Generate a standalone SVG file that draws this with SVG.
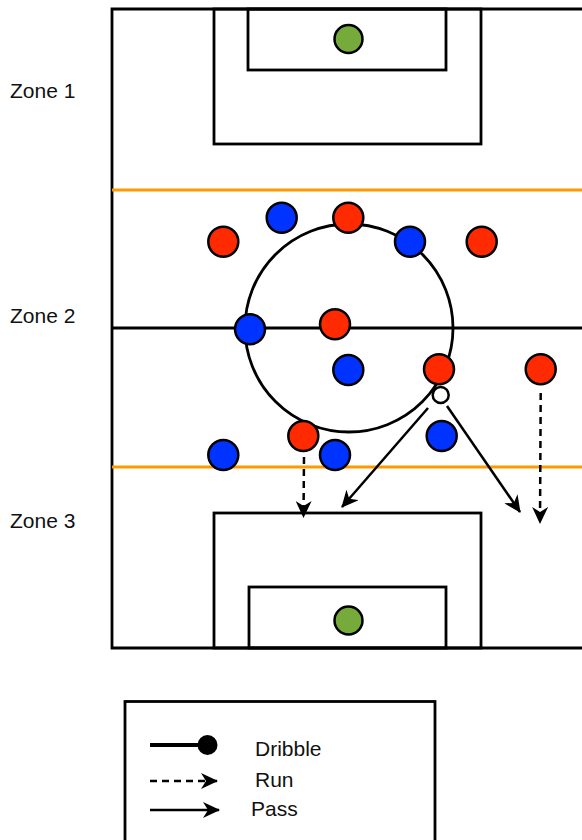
<svg xmlns="http://www.w3.org/2000/svg" width="582" height="840" viewBox="0 0 582 840">
<style>
.ln{fill:none;stroke:#000;stroke-width:2.8}
.or{fill:none;stroke:#ff9900;stroke-width:2.8}
.red{fill:#ff2a00;stroke:#000;stroke-width:2.5}
.blue{fill:#0033ff;stroke:#000;stroke-width:2.5}
.gk{fill:#76ab3c;stroke:#000;stroke-width:2.5}
.ball{fill:#fff;stroke:#000;stroke-width:2.5}
.pass{fill:none;stroke:#000;stroke-width:2.5;marker-end:url(#ah)}
.run{fill:none;stroke:#000;stroke-width:2.5;stroke-dasharray:7 5;marker-end:url(#ah)}
.t{font-family:"Liberation Sans",Arial,sans-serif;font-size:21px;fill:#111}
</style>
<defs>
<marker id="ah" markerUnits="userSpaceOnUse" markerWidth="18" markerHeight="16" viewBox="0 0 18 16" refX="16" refY="8" orient="auto">
<path d="M0,0 L17,8 L0,16 L5,8 Z" fill="#000"/>
</marker>
</defs>
<g id="pitch">
<path class="ln" d="M582,9 H112 V648 H582"/>
<line class="ln" x1="112" y1="328" x2="582" y2="328"/>
<line class="or" x1="112" y1="190" x2="582" y2="190"/>
<line class="or" x1="112" y1="467" x2="582" y2="467"/>
<circle class="ln" cx="349" cy="328" r="104"/>
<rect class="ln" x="214" y="9" width="267" height="135"/>
<rect class="ln" x="248" y="9" width="198" height="61"/>
<rect class="ln" x="214" y="513" width="267" height="135"/>
<rect class="ln" x="249" y="587" width="197" height="61"/>
</g>
<g id="labels">
<text class="t" x="10" y="98">Zone 1</text>
<text class="t" x="10" y="323">Zone 2</text>
<text class="t" x="10" y="528">Zone 3</text>
</g>
<g id="connectors">
<line class="run" x1="304" y1="457" x2="303.5" y2="517"/>
<line class="run" x1="540.7" y1="393" x2="540" y2="523"/>
<line class="pass" x1="428" y1="408" x2="342" y2="507"/>
<line class="pass" x1="447" y1="406" x2="520" y2="512"/>
</g>
<g id="players">
<circle id="gk1" class="gk" cx="348.5" cy="39" r="14"/>
<circle id="gk2" class="gk" cx="348.5" cy="620.5" r="14"/>
<circle id="b1" class="blue" cx="281.7" cy="217.7" r="15"/>
<circle id="r1" class="red" cx="348.3" cy="217.7" r="15"/>
<circle id="r2" class="red" cx="223.3" cy="241.7" r="15"/>
<circle id="b2" class="blue" cx="410" cy="241.7" r="15"/>
<circle id="r3" class="red" cx="481.7" cy="241.7" r="15"/>
<circle id="b3" class="blue" cx="250" cy="329.3" r="15"/>
<circle id="r4" class="red" cx="335" cy="324.3" r="15"/>
<circle id="b4" class="blue" cx="348.3" cy="370" r="15"/>
<circle id="r5" class="red" cx="439" cy="369.3" r="15"/>
<circle id="r6" class="red" cx="540.7" cy="369.3" r="15"/>
<circle id="ball" class="ball" cx="440.7" cy="395" r="8"/>
<circle id="r7" class="red" cx="303.3" cy="436" r="15"/>
<circle id="b5" class="blue" cx="223.3" cy="455" r="15"/>
<circle id="b6" class="blue" cx="335" cy="455" r="15"/>
<circle id="b7" class="blue" cx="441.7" cy="436" r="15"/>
</g>
<g id="legend">
<rect class="ln" x="125" y="701.5" width="310" height="150"/>
<line x1="150" y1="745" x2="205" y2="745" stroke="#000" stroke-width="4"/>
<circle cx="207.5" cy="745" r="10" fill="#000"/>
<text class="t" x="255" y="756">Dribble</text>
<line class="run" x1="150" y1="781" x2="217" y2="781"/>
<text class="t" x="255" y="786.5">Run</text>
<line class="pass" x1="150" y1="810" x2="219" y2="810"/>
<text class="t" x="251" y="816">Pass</text>
</g>
</svg>
